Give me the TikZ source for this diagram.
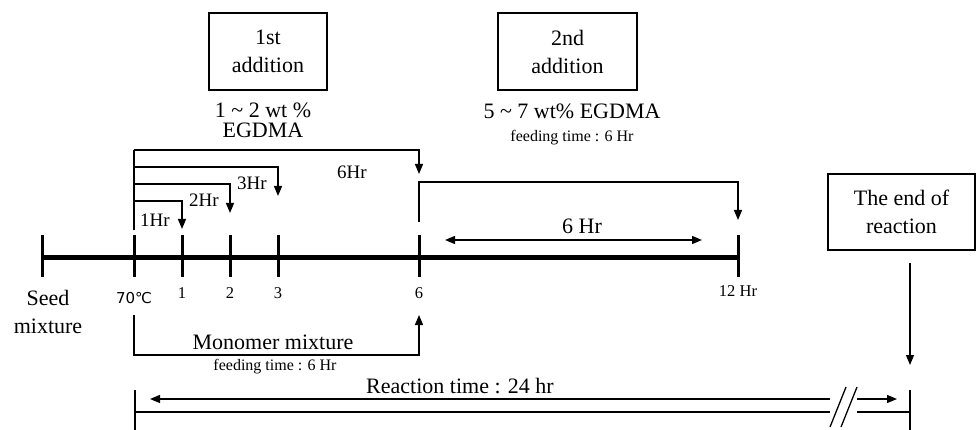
\documentclass[tikz,border=0pt]{standalone}
\usepackage{fontspec}
\setmainfont{Liberation Serif}
\newfontfamily\degfont{DejaVu Sans}
\usetikzlibrary{positioning,arrows.meta}

\begin{document}
\begin{tikzpicture}[
  x=1pt, y=-1pt,
  font=\fontsize{22}{28}\selectfont,
  tbox/.style={draw, line width=1.1pt, align=center, inner sep=0pt},
  lbl/.style={align=center, inner sep=0pt},
  tight/.style={align=center, inner sep=0pt, font=\fontsize{22}{20}\selectfont},
  hr/.style={inner sep=0pt, font=\fontsize{19}{21}\selectfont},
  feed/.style={inner sep=0pt, font=\fontsize{16}{18}\selectfont},
  ticklab/.style={inner sep=0pt, font=\fontsize{16.5}{18}\selectfont},
  tick/.style={line width=3pt},
  ln/.style={line width=1.3pt},
  brk/.style={line width=1.3pt, -{Triangle[length=10pt,width=8pt]}},
]
\useasboundingbox (0,0) rectangle (976,430);

% time axis
\coordinate (t0) at (42,257);
\foreach \n/\x in {c/134, h1/182, h2/230, h3/278, h6/419, h12/738}
  \coordinate (\n) at (\x,257);
\draw[line width=5pt] (t0) -- (h12);
\foreach \n in {t0,c,h1,h2,h3,h6,h12}
  \draw[tick] ([yshift=22pt]\n) -- ([yshift=-20pt]\n);

\node[lbl] (seed) at (48,312) {Seed\\mixture};
\node[ticklab] (l70) at (134,298) {\degfont\fontsize{15}{17}\selectfont 70℃};
\node[ticklab] (l1) at (182,293) {1};
\node[ticklab] (l2) at (230,293) {2};
\node[ticklab] (l3) at (278,293) {3};
\node[ticklab] (l6) at (419,293) {6};
\node[ticklab] (l12) at (738,291) {12 Hr};

% additions
\node[tbox, minimum width=118pt, minimum height=77pt] (add1) at (268,51.5) {1st\\addition};
\node[tbox, minimum width=139pt, minimum height=77pt] (add2) at (567.5,51.5) {2nd\\addition};
\node[tight] (egd1) at (263,120) {1 \textasciitilde{} 2 wt \%\\EGDMA};
\node[lbl] (egd2) at (572,111) {5 \textasciitilde{} 7 wt\% EGDMA};
\node[feed, below=11pt of egd2] (feed2) {feeding time : 6 Hr};

% first addition brackets
\coordinate (s0) at (134,230);
\coordinate (s6) at (134,150); \coordinate (a6) at (419,174);
\coordinate (s3) at (134,167); \coordinate (a3) at (278,196);
\coordinate (s2) at (134,184); \coordinate (a2) at (230,213);
\coordinate (s1) at (134,201); \coordinate (a1) at (182,229);
\draw[ln] (s0) -- (s6);
\foreach \s/\a in {s6/a6, s3/a3, s2/a2, s1/a1}
  \draw[brk] (\s) -| (\a);
\node[hr] (hr1) at (155,220) {1Hr};
\node[hr] (hr2) at (204,200) {2Hr};
\node[hr] (hr3) at (252,183) {3Hr};
\node[hr] (hr6) at (352,172) {6Hr};

% second addition
\coordinate (u0) at (419,222); \coordinate (u1) at (419,182);
\coordinate (a12) at (738,220);
\draw[brk] (u0) -- (u1) -| (a12);
\coordinate (m0) at (445,240); \coordinate (m1) at (702,240);
\draw[ln, {Triangle[length=10pt,width=8pt]}-{Triangle[length=10pt,width=8pt]}] (m0) -- (m1);
\node[lbl] (six) at (582,226) {6 Hr};

% monomer feed
\coordinate (mm0) at (134,315); \coordinate (mm1) at (134,355);
\coordinate (mm2) at (419,315);
\draw[brk] (mm0) -- (mm1) -| (mm2);
\node[lbl] (mono) at (273,342) {Monomer mixture};
\node[feed] (feed1) at (275,367) {feeding time : 6 Hr};

% end of reaction
\node[tbox, minimum width=147pt, minimum height=76pt] (endb) at (901.5,212) {The end of\\reaction};
\coordinate (e0) at (910,263); \coordinate (e1) at (910,365);
\draw[brk] (e0) -- (e1);

% reaction time
\node[lbl] (react) at (460,386) {Reaction time : 24 hr};
\coordinate (r0) at (135,390); \coordinate (r0b) at (135,430);
\coordinate (r1) at (910,390); \coordinate (r1b) at (910,430);
\draw[ln] (r0) -- (r0b);
\draw[ln] (r1) -- (r1b);
\coordinate (p0) at (150,399); \coordinate (p1) at (830,399);
\coordinate (p2) at (857,399); \coordinate (p3) at (897,399);
\draw[ln, {Triangle[length=10pt,width=8pt]}-] (p0) -- (p1);
\draw[brk] (p2) -- (p3);
\coordinate (q1) at (830,412); \coordinate (q2) at (857,412);
\draw[ln] (r0b |- q1) -- (q1);
\draw[ln] (q2) -- (r1b |- q2);
\coordinate (k0) at (830,427); \coordinate (k1) at (846,387);
\coordinate (k2) at (841,427); \coordinate (k3) at (857,387);
\draw[ln] (k0) -- (k1);
\draw[ln] (k2) -- (k3);
\end{tikzpicture}
\end{document}
